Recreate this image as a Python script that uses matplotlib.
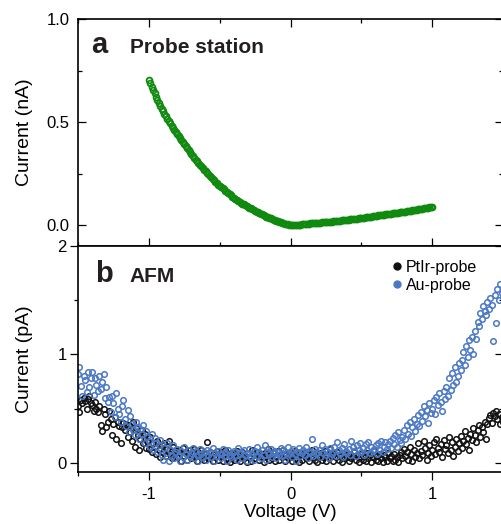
import numpy as np
import matplotlib
matplotlib.use("Agg")
import matplotlib.pyplot as plt
from matplotlib.ticker import MultipleLocator
from matplotlib.lines import Line2D

plt.rcParams['font.family'] = ['Liberation Sans', 'DejaVu Sans']
plt.rcParams['axes.unicode_minus'] = False

# ---------------- data ----------------
# Panel a: probe station I-V (nA), voltage step 0.01 V from -1 to 1
probe_v = np.round(np.arange(-1.0, 1.0001, 0.01), 3)
probe_i = [
    0.705, 0.688, 0.672, 0.656, 0.640, 0.624, 0.608, 0.593, 0.578, 0.565,
    0.553, 0.540, 0.528, 0.516, 0.505, 0.494, 0.484, 0.473, 0.463, 0.453,
    0.443, 0.433, 0.423, 0.413, 0.403, 0.393, 0.383, 0.373, 0.364, 0.354,
    0.345, 0.336, 0.327, 0.318, 0.310, 0.302, 0.294, 0.286, 0.278, 0.270,
    0.262, 0.254, 0.247, 0.240, 0.233, 0.226, 0.219, 0.212, 0.205, 0.198,
    0.192, 0.186, 0.180, 0.174, 0.168, 0.162, 0.156, 0.150, 0.145, 0.139,
    0.134, 0.130, 0.125, 0.120, 0.115, 0.110, 0.106, 0.102, 0.098, 0.094,
    0.090, 0.086, 0.082, 0.078, 0.074, 0.070, 0.067, 0.063, 0.060, 0.056,
    0.053, 0.050, 0.047, 0.043, 0.040, 0.037, 0.034, 0.031, 0.028, 0.025,
    0.022, 0.019, 0.017, 0.014, 0.012, 0.010, 0.008, 0.006, 0.005, 0.004,
    0.003, 0.002, 0.002, 0.002, 0.002, 0.002, 0.003, 0.004, 0.005, 0.006,
    0.007, 0.008, 0.009, 0.009, 0.010, 0.010, 0.011, 0.011, 0.012, 0.012,
    0.013, 0.013, 0.014, 0.014, 0.015, 0.015, 0.016, 0.017, 0.018, 0.018,
    0.019, 0.020, 0.021, 0.021, 0.022, 0.023, 0.024, 0.024, 0.025, 0.026,
    0.027, 0.028, 0.029, 0.029, 0.030, 0.031, 0.032, 0.033, 0.034, 0.035,
    0.036, 0.037, 0.038, 0.039, 0.040, 0.041, 0.042, 0.043, 0.044, 0.045,
    0.046, 0.047, 0.048, 0.049, 0.050, 0.051, 0.052, 0.053, 0.054, 0.055,
    0.056, 0.057, 0.058, 0.059, 0.060, 0.061, 0.062, 0.063, 0.064, 0.065,
    0.066, 0.067, 0.068, 0.069, 0.070, 0.071, 0.073, 0.074, 0.075, 0.076,
    0.077, 0.078, 0.080, 0.081, 0.082, 0.083, 0.084, 0.085, 0.087, 0.088,
    0.090,
]

# Panel b: AFM I-V (pA), voltage step 0.01 V from -1.5 to 1.5
afm_v = np.round(np.arange(-1.5, 1.5001, 0.01), 3)
ptir_i = [
    0.52, 0.47, 0.58, 0.55, 0.60, 0.57, 0.50, 0.59, 0.62, 0.55,
    0.53, 0.48, 0.56, 0.50, 0.47, 0.52, 0.35, 0.29, 0.50, 0.45,
    0.33, 0.38, 0.48, 0.40, 0.26, 0.36, 0.42, 0.22, 0.38, 0.34,
    0.18, 0.33, 0.37, 0.30, 0.36, 0.24, 0.35, 0.28, 0.20, 0.38,
    0.15, 0.32, 0.26, 0.12, 0.22, 0.30, 0.18, 0.27, 0.14, 0.20,
    0.13, 0.24, 0.10, 0.18, 0.15, 0.08, 0.20, 0.12, 0.05, 0.16,
    0.10, 0.18, 0.06, 0.13, 0.20, 0.08, 0.04, 0.15, 0.07, 0.11,
    0.05, 0.12, 0.09, 0.02, 0.14, 0.06, 0.10, 0.03, 0.08, 0.12,
    0.04, 0.09, 0.13, 0.06, 0.02, 0.10, 0.07, 0.12, 0.05, 0.03,
    0.08, 0.19, 0.04, 0.10, 0.06, 0.02, 0.09, 0.05, 0.11, 0.03,
    0.06, 0.10, 0.02, 0.08, 0.12, 0.04, 0.07, 0.01, 0.09, 0.05,
    0.03, 0.08, 0.11, 0.05, 0.02, 0.07, 0.10, 0.04, 0.06, 0.01,
    0.09, 0.05, 0.02, 0.12, 0.07, 0.04, 0.10, 0.06, 0.03, 0.08,
    0.05, 0.01, 0.09, 0.06, 0.13, 0.03, 0.07, 0.04, 0.10, 0.02,
    0.06, 0.11, 0.03, 0.08, 0.05, 0.12, 0.02, 0.07, 0.04, 0.09,
    0.05, 0.02, 0.08, 0.11, 0.04, 0.06, 0.01, 0.09, 0.03, 0.07,
    0.10, 0.04, 0.06, 0.02, 0.08, 0.12, 0.05, 0.03, 0.07, 0.01,
    0.06, 0.09, 0.03, 0.05, 0.11, 0.02, 0.07, 0.04, 0.13, 0.06,
    0.02, 0.08, 0.05, 0.10, 0.03, 0.06, 0.01, 0.09, 0.04, 0.07,
    0.05, 0.02, 0.08, 0.04, 0.06, 0.10, 0.03, 0.07, 0.01, 0.05,
    0.08, 0.03, 0.06, 0.02, 0.09, 0.04, 0.07, 0.01, 0.05, 0.11,
    0.03, 0.06, 0.02, 0.08, 0.04, 0.01, 0.07, 0.05, 0.02, 0.09,
    0.04, 0.06, 0.02, 0.08, 0.03, 0.05, 0.01, 0.07, 0.10, 0.04,
    0.13, 0.06, 0.10, 0.03, 0.15, 0.08, 0.02, 0.12, 0.05, 0.09,
    0.18, 0.04, 0.11, 0.07, 0.20, 0.14, 0.03, 0.09, 0.16, 0.06,
    0.12, 0.19, 0.08, 0.22, 0.14, 0.10, 0.17, 0.05, 0.21, 0.13,
    0.16, 0.09, 0.24, 0.12, 0.19, 0.06, 0.15, 0.22, 0.11, 0.18,
    0.25, 0.14, 0.20, 0.29, 0.17, 0.23, 0.12, 0.27, 0.21, 0.32,
    0.26, 0.19, 0.30, 0.35, 0.24, 0.33, 0.28, 0.38, 0.22, 0.36,
    0.41, 0.44, 0.37, 0.46, 0.43, 0.48, 0.40, 0.45, 0.36, 0.42,
    0.38,
]
au_i = [
    0.82, 0.88, 0.71, 0.62, 0.80, 0.76, 0.65, 0.84, 0.70, 0.78,
    0.84, 0.63, 0.78, 0.72, 0.66, 0.80, 0.68, 0.75, 0.82, 0.60,
    0.70, 0.56, 0.61, 0.47, 0.62, 0.55, 0.42, 0.64, 0.50, 0.45,
    0.38, 0.52, 0.58, 0.40, 0.34, 0.49, 0.28, 0.43, 0.36, 0.30,
    0.26, 0.38, 0.33, 0.22, 0.31, 0.27, 0.35, 0.18, 0.29, 0.24,
    0.20, 0.15, 0.27, 0.12, 0.23, 0.18, 0.10, 0.16, 0.21, 0.07,
    0.03, 0.14, 0.09, 0.18, 0.02, 0.12, 0.06, 0.16, 0.04, 0.10,
    0.13, 0.07, 0.02, 0.11, 0.05, 0.15, 0.08, 0.03, 0.12, 0.06,
    0.09, 0.14, 0.04, 0.11, 0.07, 0.02, 0.13, 0.08, 0.05, 0.10,
    0.03, 0.12, 0.07, 0.10, 0.05, 0.14, 0.02, 0.09, 0.06, 0.11,
    0.08, 0.04, 0.13, 0.06, 0.10, 0.02, 0.12, 0.07, 0.05, 0.09,
    0.11, 0.06, 0.03, 0.14, 0.08, 0.10, 0.04, 0.12, 0.07, 0.02,
    0.09, 0.13, 0.05, 0.08, 0.03, 0.11, 0.15, 0.06, 0.10, 0.04,
    0.12, 0.07, 0.16, 0.03, 0.10, 0.08, 0.13, 0.05, 0.11, 0.09,
    0.04, 0.10, 0.07, 0.14, 0.06, 0.12, 0.03, 0.09, 0.15, 0.08,
    0.11, 0.05, 0.13, 0.08, 0.02, 0.10, 0.14, 0.06, 0.09, 0.12,
    0.07, 0.15, 0.04, 0.11, 0.09, 0.22, 0.06, 0.13, 0.08, 0.10,
    0.12, 0.05, 0.16, 0.09, 0.13, 0.07, 0.11, 0.04, 0.14, 0.08,
    0.10, 0.15, 0.06, 0.19, 0.12, 0.08, 0.14, 0.05, 0.17, 0.11,
    0.09, 0.13, 0.07, 0.20, 0.15, 0.11, 0.06, 0.16, 0.12, 0.18,
    0.10, 0.14, 0.07, 0.17, 0.12, 0.19, 0.09, 0.15, 0.11, 0.13,
    0.16, 0.08, 0.18, 0.12, 0.20, 0.10, 0.15, 0.19, 0.13, 0.17,
    0.20, 0.14, 0.23, 0.17, 0.26, 0.15, 0.28, 0.21, 0.18, 0.24,
    0.30, 0.22, 0.35, 0.27, 0.38, 0.25, 0.33, 0.40, 0.29, 0.36,
    0.44, 0.34, 0.47, 0.39, 0.52, 0.43, 0.49, 0.37, 0.55, 0.46,
    0.50, 0.58, 0.45, 0.61, 0.53, 0.64, 0.56, 0.48, 0.66, 0.59,
    0.70, 0.62, 0.78, 0.67, 0.83, 0.72, 0.88, 0.75, 0.80, 0.92,
    0.86, 0.95, 1.02, 0.90, 1.08, 0.98, 1.13, 1.04, 1.16, 1.00,
    1.22, 1.14, 1.30, 1.26, 1.38, 1.33, 1.45, 1.40, 1.36, 1.48,
    1.42, 1.52, 1.46, 1.12, 1.55, 1.29, 1.60, 1.50, 1.65, 1.57,
    1.53,
]

x_major = [-1, 0, 1]
x_major_labels = ['-1', '0', '1']

# ---------------- styles ----------------
GREEN = '#0f8a0f'
BLACK = '#111111'
BLUE = '#4a78c4'
TXT = '#231f20'
SPW = 1.2

fig = plt.figure(figsize=(5.01, 5.24), dpi=100)
ax1 = fig.add_axes([0.1557, 0.5305, 0.8483, 0.4332])
ax2 = fig.add_axes([0.1557, 0.0992, 0.8483, 0.4313])

for ax in (ax1, ax2):
    for s in ax.spines.values():
        s.set_linewidth(SPW)
    ax.set_xlim(-1.5, 1.5)
    ax.xaxis.set_major_locator(MultipleLocator(1))
    ax.xaxis.set_minor_locator(MultipleLocator(0.5))

# ---- panel a ----
ax1.plot(probe_v, probe_i, linestyle='none', marker='o', markersize=4.2,
         mfc='none', mec=GREEN, mew=1.3)
ax1.set_ylim(-0.1, 1.0)
ax1.yaxis.set_major_locator(MultipleLocator(0.5))
ax1.yaxis.set_minor_locator(MultipleLocator(0.25))
ax1.set_yticks([0.0, 0.5, 1.0])
ax1.set_yticklabels(['0.0', '0.5', '1.0'])
ax1.tick_params(axis='y', which='both', direction='in', left=True, right=True,
                labelsize=12, pad=6)
ax1.tick_params(axis='x', which='both', direction='in', top=True, bottom=True,
                labelbottom=False)
ax1.tick_params(which='major', length=6, width=0.9)
ax1.tick_params(which='minor', length=3, width=0.9)
ax1.set_ylabel('Current (nA)', fontsize=14)
ax1.yaxis.set_label_coords(-0.106, 0.5)
ax1.text(0.032, 0.85, 'a', transform=ax1.transAxes, fontsize=21,
         fontweight='bold', color=TXT)
ax1.text(0.122, 0.85, 'Probe station', transform=ax1.transAxes, fontsize=15,
         fontweight='bold', color=TXT)

# ---- panel b ----
ax2.plot(afm_v, ptir_i, linestyle='none', marker='o', markersize=4,
         mfc='none', mec=BLACK, mew=1.1)
ax2.plot(afm_v, au_i, linestyle='none', marker='o', markersize=4,
         mfc='none', mec=BLUE, mew=1.1)
ax2.set_ylim(-0.085, 2.0)
ax2.yaxis.set_major_locator(MultipleLocator(1))
ax2.yaxis.set_minor_locator(MultipleLocator(0.5))
ax2.set_yticks([0, 1, 2])
ax2.set_yticklabels(['0', '1', '2'])
ax2.tick_params(axis='y', which='both', direction='out', left=True, right=False,
                labelsize=12, pad=2)
ax2.tick_params(axis='x', which='both', direction='out', top=False, bottom=True,
                labelsize=12, pad=4.5)
ax2.tick_params(which='major', length=6, width=0.9)
ax2.tick_params(which='minor', length=3, width=0.9)
ax2.set_xticks(x_major)
ax2.set_xticklabels(x_major_labels)
# inward ticks on the right spine
ax2r = ax2.secondary_yaxis('right')
ax2r.set_yticks([0, 1, 2])
ax2r.yaxis.set_minor_locator(MultipleLocator(0.5))
ax2r.tick_params(which='both', direction='in', labelright=False, width=0.9)
ax2r.tick_params(which='major', length=6)
ax2r.tick_params(which='minor', length=3)
ax2r.spines['right'].set_linewidth(SPW)

ax2.set_ylabel('Current (pA)', fontsize=14)
ax2.yaxis.set_label_coords(-0.106, 0.5)
ax2.set_xlabel('Voltage (V)', fontsize=13.5)
ax2.xaxis.set_label_coords(0.5, -0.141)
ax2.text(0.04, 0.841, 'b', transform=ax2.transAxes, fontsize=21,
         fontweight='bold', color=TXT)
ax2.text(0.122, 0.841, 'AFM', transform=ax2.transAxes, fontsize=15,
         fontweight='bold', color=TXT)

handles = [Line2D([], [], linestyle='none', marker='o', markersize=5,
                  mfc=BLACK, mec=BLACK),
           Line2D([], [], linestyle='none', marker='o', markersize=5,
                  mfc=BLUE, mec=BLUE)]
ax2.legend(handles, ['PtIr-probe', 'Au-probe'], loc='upper left',
           bbox_to_anchor=(0.735, 0.94), frameon=False, fontsize=11.5,
           handlelength=0.8, handletextpad=0.15, borderpad=0,
           borderaxespad=0, labelspacing=0.2)

fig.savefig('out.png', dpi=100)
